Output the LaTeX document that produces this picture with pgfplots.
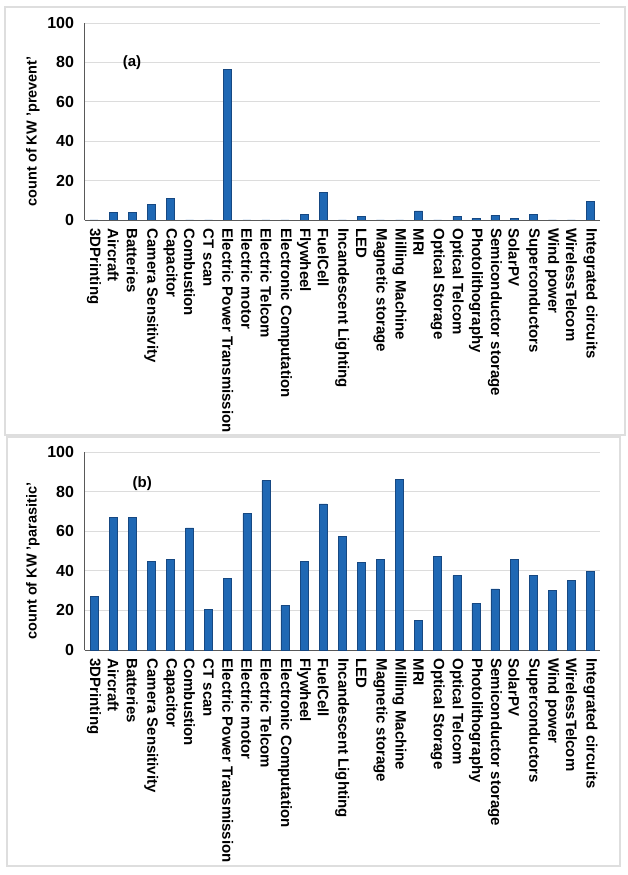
\documentclass[border=0pt]{standalone}
\usepackage{fontspec}
\setmainfont{Liberation Sans}
\usepackage{pgfplots}
\pgfplotsset{compat=1.18}
\definecolor{barblue}{RGB}{31,104,180}
\definecolor{baredge}{RGB}{22,72,130}
\definecolor{gridgray}{RGB}{220,220,220}
\definecolor{framegray}{RGB}{222,222,222}
\pgfplotsset{mystyle/.style={
  scale only axis, width=515.5pt,
  xmin=-0.5, xmax=26.5, ymin=0, ymax=100,
  ytick={0,20,40,60,80,100},
  xtick={0,...,26},
  xticklabels={3DPrinting,Aircraft,Batteries,Camera Sensitivity,Capacitor,Combustion,CT scan,Electric Power Transmission,Electric motor,Electric Telcom,Electronic Computation,Flywheel,FuelCell,Incandescent Lighting,LED,Magnetic storage,Milling Machine,MRI,Optical Storage,Optical Telcom,Photolithography,Semiconductor storage,SolarPV,Superconductors,Wind power,WirelessTelcom,Integrated circuits},
  axis x line*=bottom, axis y line*=left,
  axis line style={-, draw=black!65, line width=0.9pt},
  ymajorgrids, grid style={gridgray, line width=0.7pt},
  major tick length=0pt, tick style={draw=none},
  /pgf/number format/assume math mode=true,
  yticklabel style={font=\bfseries\fontsize{16}{17}\selectfont},
  yticklabel shift=7pt,
  xticklabel style={rotate=-90, anchor=west, font=\bfseries\fontsize{15}{16}\selectfont},
  xticklabel shift=5pt,
  ylabel style={at={(axis description cs:-0.1,0.45)}, anchor=center, font=\bfseries\fontsize{14.5}{15}\selectfont},
  ybar, bar width=8pt,
}}
\begin{document}
\begin{tikzpicture}
\path[use as bounding box] (0,0) rectangle (628pt,875pt);
\draw[framegray, line width=1.2pt] (5pt,440pt) rectangle (625pt,868pt);
\draw[framegray, line width=1.2pt] (7pt,9pt) rectangle (620pt,438pt);
\begin{axis}[mystyle, height=197pt, at={(84.5pt,655pt)}, anchor=south west,
  ylabel={count of KW 'prevent'}]
\addplot[fill=barblue, draw=baredge, line width=0.5pt] coordinates {(0,0) (1,3.9) (2,3.7) (3,7.8) (4,11) (5,0) (6,0) (7,76.3) (8,0) (9,0) (10,0) (11,2.9) (12,13.9) (13,0) (14,1.7) (15,0) (16,0) (17,4.6) (18,0) (19,2.0) (20,0.8) (21,2.3) (22,0.8) (23,2.8) (24,0) (25,0) (26,9.3)};
\node[font=\bfseries\fontsize{15}{16}\selectfont] at (axis description cs:0.092,0.80) {(a)};
\end{axis}
\begin{axis}[mystyle, height=198pt, at={(84.5pt,225pt)}, anchor=south west,
  ylabel={count of KW 'parasitic'}]
\addplot[fill=barblue, draw=baredge, line width=0.5pt] coordinates {(0,27) (1,67.1) (2,67.1) (3,44.9) (4,45.8) (5,61.7) (6,20.4) (7,36.3) (8,68.9) (9,85.6) (10,22.5) (11,44.8) (12,73.8) (13,57.4) (14,44.4) (15,45.9) (16,86.0) (17,15.0) (18,47.1) (19,37.5) (20,23.6) (21,30.9) (22,45.6) (23,37.5) (24,30.1) (25,35.3) (26,39.7)};
\node[font=\bfseries\fontsize{15}{16}\selectfont] at (axis description cs:0.112,0.84) {(b)};
\end{axis}
\end{tikzpicture}
\end{document}
